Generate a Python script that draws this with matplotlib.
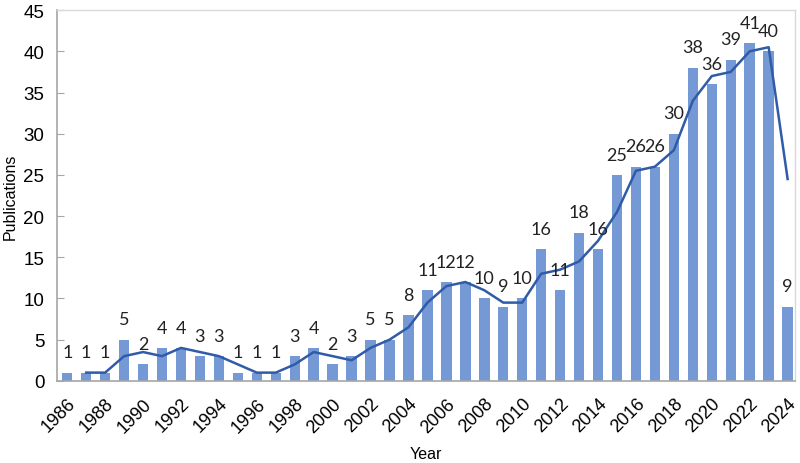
import numpy as np
from matplotlib import pyplot as plt

years = list(range(1986, 2025))
pubs = [1, 1, 1, 5, 2, 4, 4, 3, 3, 1, 1, 1, 3, 4, 2, 3, 5, 5, 8, 11,
        12, 12, 10, 9, 10, 16, 11, 18, 16, 25, 26, 26, 30, 38, 36, 39, 41, 40, 9]

bar_col = '#7599D5'
line_col = '#2F5BA8'
frame_col = '#D9D9D9'
axis_col = '#A6A6A6'

# two-period moving average, as the trendline in the original
x = np.arange(len(years))
ma = [(pubs[i - 1] + pubs[i]) / 2 for i in range(1, len(pubs))]

fig = plt.figure(figsize=(8, 4.64), dpi=100)
ax = fig.add_axes([0.071, 0.177, 0.923, 0.799])

ax.bar(x, pubs, width=0.55, color=bar_col, zorder=2)
ax.plot(x[1:], ma, color=line_col, linewidth=1.8, zorder=3)

for xi, v in zip(x, pubs):
    ax.text(xi, v + 1.5, str(v), ha='center', va='bottom', fontsize=13,
            family='Lato', color='#222222', zorder=4)

ax.set_xlim(-0.55, len(years) - 0.6)
ax.set_ylim(0, 45)
ax.set_yticks(range(0, 46, 5))
ax.set_xticks(x[::2])
ax.set_xticklabels([str(y) for y in years[::2]], rotation=45, ha='right',
                   rotation_mode='anchor', fontsize=13, family='Liberation Sans')
for lab in ax.get_yticklabels():
    lab.set_family('Liberation Sans')
    lab.set_fontsize(13.5)

ax.tick_params(axis='y', direction='in', length=5, color=axis_col, pad=9)
ax.tick_params(axis='x', length=0, pad=10)

for side in ['top', 'right']:
    ax.spines[side].set_color(frame_col)
    ax.spines[side].set_linewidth(1)
for side in ['left', 'bottom']:
    ax.spines[side].set_color(axis_col)
    ax.spines[side].set_linewidth(1.2)

ax.set_ylabel('Publications', fontsize=11.5, family='Liberation Sans', labelpad=4)
ax.set_xlabel('Year', fontsize=11.5, family='Liberation Sans', labelpad=8)

fig.savefig('out.png', dpi=100)
